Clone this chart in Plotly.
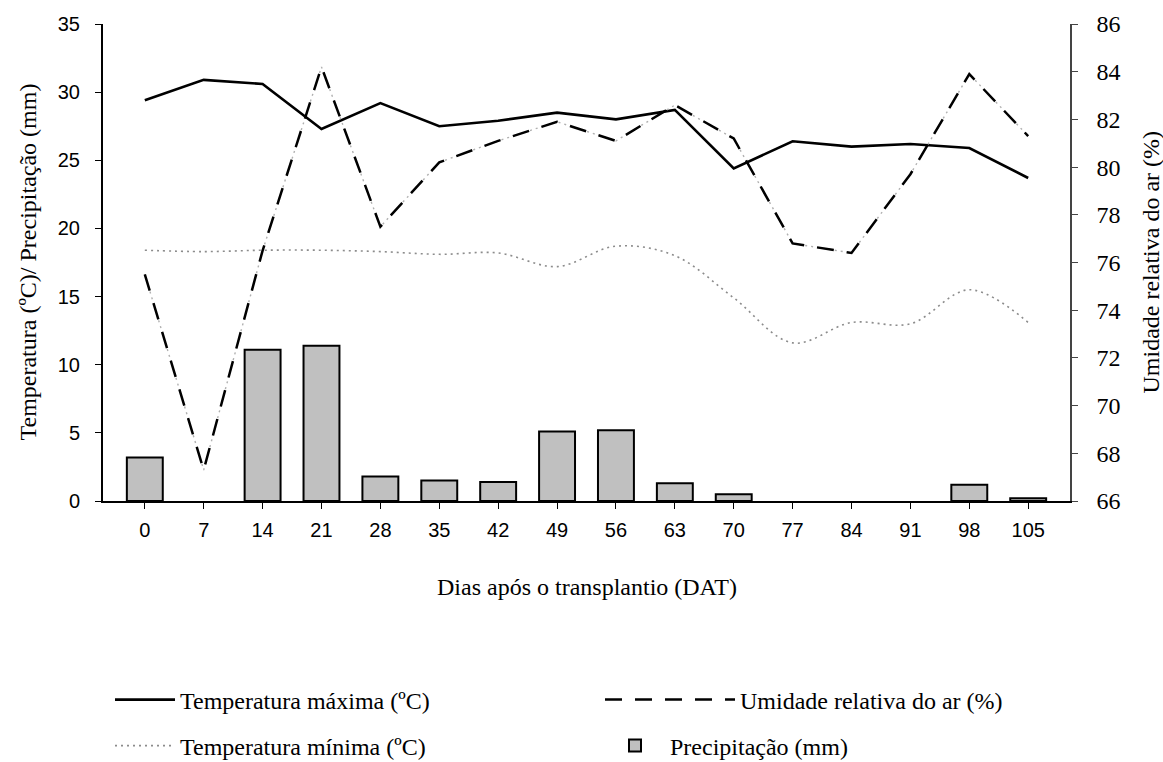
import plotly.graph_objects as go

# Days after transplanting (DAT)
dias = ["0", "7", "14", "21", "28", "35", "42", "49", "56", "63",
        "70", "77", "84", "91", "98", "105"]

# Weekly climate records
temp_max = [29.4, 30.9, 30.6, 27.3, 29.2, 27.5, 27.9, 28.5, 28.0, 28.7,
            24.4, 26.4, 26.0, 26.2, 25.9, 23.7]
temp_min = [18.4, 18.3, 18.4, 18.4, 18.3, 18.1, 18.2, 17.2, 18.7, 18.0,
            14.9, 11.6, 13.1, 13.0, 15.5, 13.1]
umidade = [75.5, 67.3, 76.5, 84.2, 77.5, 80.2, 81.1, 81.9, 81.1, 82.6,
           81.2, 76.8, 76.4, 79.7, 83.9, 81.3]
precipitacao = [3.2, 0.0, 11.1, 11.4, 1.8, 1.5, 1.4, 5.1, 5.2, 1.3,
                0.5, 0.0, 0.0, 0.0, 1.2, 0.2]

SERIF = "Liberation Serif"
SANS = "Liberation Sans"
W, H = 1163, 762
ML, MR, MT, MB = 103, 93, 24, 261
PW, PH = W - ML - MR, H - MT - MB

fig = go.Figure()

# no outline drawn for days without rain
bar_edges = [2 if v > 0 else 0 for v in precipitacao]
fig.add_trace(go.Bar(
    x=dias, y=precipitacao, name="Precipitação (mm)",
    width=0.61, marker=dict(color="#c0c0c0", line=dict(color="black", width=bar_edges)),
    legend="legend4",
))

fig.add_trace(go.Scatter(
    x=dias, y=temp_min, name="Temperatura mínima (ºC)", mode="lines",
    line=dict(color="#8c8c8c", width=1.6, dash="2px,4px", shape="spline", smoothing=1.0),
    legend="legend2",
))

# humidity: faint dotted base with black dashes on top
fig.add_trace(go.Scatter(
    x=dias, y=umidade, yaxis="y2", mode="lines", showlegend=False,
    line=dict(color="#b0b0b0", width=1.4, dash="2px,4px"),
    hoverinfo="skip",
))
fig.add_trace(go.Scatter(
    x=dias, y=umidade, yaxis="y2", name="Umidade relativa do ar (%)", mode="lines",
    line=dict(color="black", width=2.5, dash="17px,13px"),
    legend="legend3",
))

fig.add_trace(go.Scatter(
    x=dias, y=temp_max, name="Temperatura máxima (ºC)", mode="lines",
    line=dict(color="black", width=2.6),
    legend="legend",
))


def leg(px, py, iw=60):
    return dict(
        xref="container", yref="container", x=px / W, y=1 - py / H,
        xanchor="left", yanchor="middle", bgcolor="rgba(0,0,0,0)",
        font=dict(family=SERIF, size=24, color="black"), itemwidth=iw,
    )


def title_note(text, px, py, angle=0):
    return dict(
        text=text, xref="paper", yref="paper",
        x=(px - ML) / PW, y=(H - MB - py) / PH,
        xanchor="center", yanchor="middle", textangle=angle, showarrow=False,
        font=dict(family=SERIF, size=24, color="black"),
    )


fig.update_layout(
    width=W, height=H,
    margin=dict(l=ML, r=MR, t=MT, b=MB, autoexpand=False),
    plot_bgcolor="white", paper_bgcolor="white",
    xaxis=dict(
        type="category", range=[-0.71, 15.71],
        showline=True, linecolor="black", linewidth=2,
        ticks="outside", ticklen=6, tickwidth=1, tickcolor="black",
        tickfont=dict(family=SANS, size=20, color="black"), ticklabelstandoff=4,
        showgrid=False, zeroline=False,
    ),
    yaxis=dict(
        range=[0, 35], dtick=5,
        showline=True, linecolor="black", linewidth=2,
        ticks="outside", ticklen=6, tickwidth=1, tickcolor="black",
        tickfont=dict(family=SANS, size=20, color="black"), ticklabelstandoff=11,
        showgrid=False, zeroline=False,
    ),
    yaxis2=dict(
        range=[66, 86], dtick=2, overlaying="y", side="right",
        showline=True, linecolor="#444", linewidth=1.5,
        ticks="outside", ticklen=6, tickwidth=1, tickcolor="#444",
        tickfont=dict(family=SERIF, size=24, color="black"), ticklabelstandoff=14,
        showgrid=False, zeroline=False,
    ),
    annotations=[
        title_note("Dias após o transplantio (DAT)", ML + PW / 2, 587),
        title_note("Temperatura (ºC)/ Precipitação (mm)", 27, MT + PH / 2, -90),
        title_note("Umidade relativa do ar (%)", 1150, MT + PH / 2, -90),
    ],
    legend=leg(110, 700),
    legend2=leg(110, 746),
    legend3=leg(600, 700, 130),
    legend4=leg(600, 746),
)

fig.write_html("out.html")
